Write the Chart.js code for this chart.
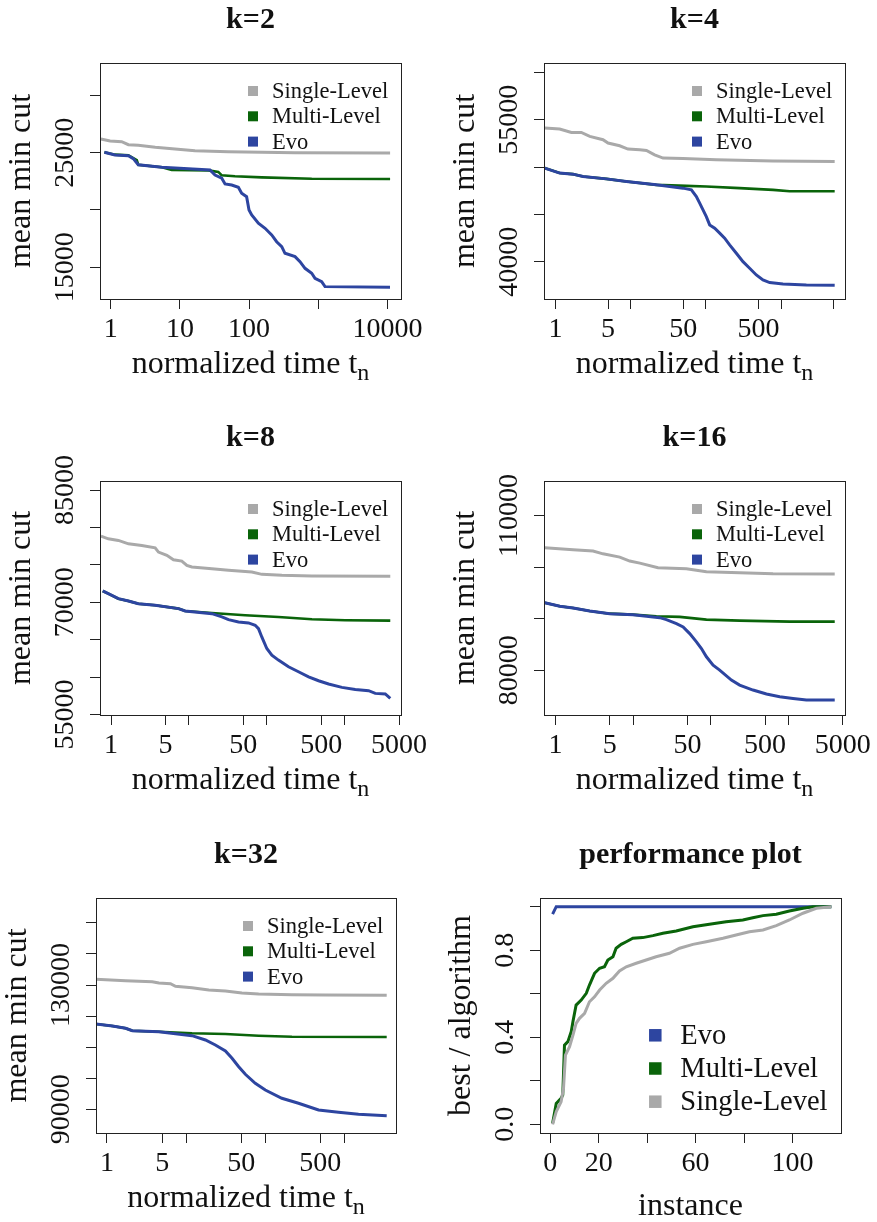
<!DOCTYPE html>
<html>
<head>
<meta charset="utf-8">
<title>Mean min cut over normalized time</title>
<script src="https://cdn.jsdelivr.net/npm/chart.js@4.4.1/dist/chart.umd.min.js"></script>
<style>
	html, body { margin: 0; padding: 0; background: #fff; }
	#figure { position: relative; width: 877px; height: 1222px; background: #fff; overflow: hidden; }
	#figure canvas { position: absolute; }
</style>
</head>
<body>
<div id="figure"></div>
<script>
/* global Chart */

// k=2
const K2_SINGLE_T = [ 0.72, 0.98, 1.44, 1.8, 2.5, 4.4, 8.5, 16.5, 50, 152, 460, 10900 ];
const K2_SINGLE_CUT = [ 26200, 26020, 25960, 25700, 25650, 25470, 25320, 25180, 25090, 25030, 25000, 24970 ];
const K2_MULTI_T = [ 0.81, 1.15, 1.8, 2.38, 2.5, 5.5, 7.6, 25.8, 35.9, 40, 62.5, 152, 804, 10900 ];
const K2_MULTI_CUT = [ 25040, 24830, 24770, 24360, 23950, 23730, 23490, 23460, 23320, 23030, 22940, 22850, 22730, 22700 ];
const K2_EVO_T = [ 0.81, 1.15, 1.8, 2.12, 2.5, 5.46, 27.2, 32.2, 40.2, 44.9, 56, 69.9, 78, 92, 99.7, 109, 136, 170, 212, 250, 296, 330, 461, 544, 643, 803, 896, 1119, 1250, 10870 ];
const K2_EVO_CUT = [ 25040, 24800, 24740, 24480, 23950, 23730, 23490, 23050, 22770, 22270, 22180, 21980, 21460, 21160, 20000, 19560, 18840, 18400, 17820, 17230, 16800, 16220, 15930, 15490, 14910, 14480, 14040, 13740, 13310, 13250 ];

// k=4
const K4_SINGLE_T = [ 0.72, 1.14, 1.63, 2.21, 2.86, 4.29, 5, 7.14, 9.2, 13.2, 16.2, 20.8, 26.9, 49.5, 137, 776, 5117 ];
const K4_SINGLE_CUT = [ 54120, 54020, 53660, 53660, 53240, 52890, 52540, 52250, 51900, 51830, 51760, 51300, 50950, 50910, 50770, 50640, 50590 ];
const K4_MULTI_T = [ 0.72, 1.14, 1.71, 2.33, 4.75, 8.77, 21.9, 55, 101, 280, 776, 1291, 5117 ];
const K4_MULTI_CUT = [ 49900, 49370, 49260, 49010, 48760, 48480, 48130, 48020, 47960, 47780, 47600, 47460, 47460 ];
const K4_EVO_T = [ 0.72, 1.14, 1.71, 2.33, 4.75, 8.77, 21.9, 49.5, 64, 74.5, 82.5, 91.3, 101, 112, 130.5, 152, 177, 206, 253, 310, 380, 466, 571, 701, 1054, 2153, 5117 ];
const K4_EVO_CUT = [ 49900, 49370, 49260, 49010, 48760, 48480, 48130, 47780, 47600, 46890, 46200, 45490, 44780, 43900, 43550, 43030, 42500, 41790, 40910, 40020, 39330, 38620, 38090, 37810, 37670, 37560, 37530 ];

// k=8
const K8_SINGLE_T = [ 0.74, 0.92, 1.24, 1.67, 2.48, 3.68, 4.06, 5.2, 6.32, 8.1, 9.4, 10.9, 19.7, 32.2, 64.3, 86.5, 156, 380, 3855 ];
const K8_SINGLE_CUT = [ 78840, 78480, 78270, 77810, 77600, 77280, 76710, 76270, 75680, 75510, 74930, 74710, 74480, 74270, 74040, 73730, 73600, 73510, 73470 ];
const K8_MULTI_T = [ 0.78, 0.92, 1.24, 1.67, 2.24, 3.68, 7.33, 8.93, 19.7, 52.7, 141, 380, 1018, 3855 ];
const K8_MULTI_CUT = [ 71510, 71150, 70480, 70170, 69810, 69600, 69150, 68840, 68570, 68270, 68040, 67730, 67600, 67550 ];
const K8_EVO_T = [ 0.78, 0.92, 1.24, 1.67, 2.24, 3.68, 7.33, 8.93, 19.7, 26.5, 32.2, 43.3, 58.2, 70.9, 78.2, 86.5, 100, 116, 141, 190, 255, 344, 462, 621, 922, 1368, 2029, 2473, 3326, 3855 ];
const K8_EVO_CUT = [ 71510, 71150, 70480, 70170, 69810, 69600, 69150, 68840, 68480, 68040, 67680, 67370, 67240, 66930, 66480, 65330, 63820, 62940, 62270, 61380, 60710, 60040, 59510, 59070, 58620, 58350, 58180, 57820, 57740, 57150 ];

// k=16
const K16_SINGLE_T = [ 0.73, 1.69, 3.05, 4.1, 6.73, 9.04, 12.2, 20.9, 48.5, 87.8, 235, 632, 3933 ];
const K16_SINGLE_CUT = [ 103730, 103350, 103100, 102570, 101940, 101160, 100770, 99870, 99670, 99090, 98900, 98700, 98650 ];
const K16_MULTI_T = [ 0.73, 1.14, 1.69, 2.76, 5, 9.97, 19.9, 39.8, 87.8, 235, 1036, 3933 ];
const K16_MULTI_CUT = [ 93090, 92400, 92070, 91490, 90960, 90770, 90460, 90330, 89800, 89610, 89420, 89420 ];
const K16_EVO_T = [ 0.73, 1.14, 1.69, 2.76, 5, 9.97, 12.2, 22, 26.8, 36.1, 44, 53.5, 65.3, 75.7, 87.8, 107, 130, 184, 235, 349, 520, 771, 1143, 1699, 3933 ];
const K16_EVO_CUT = [ 93090, 92400, 92070, 91490, 90960, 90770, 90620, 90190, 89800, 89030, 88390, 87090, 85490, 84190, 82590, 80980, 80010, 78080, 77110, 76140, 75370, 74850, 74520, 74200, 74200 ];

// k=32
const K32_SINGLE_T = [ 0.72, 1.72, 3.73, 4.54, 6.36, 7.35, 11.9, 19.4, 31.5, 51, 83, 219, 576, 3460 ];
const K32_SINGLE_CUT = [ 131840, 131390, 131060, 130640, 130420, 129580, 129130, 128390, 128070, 127420, 127100, 126880, 126780, 126680 ];
const K32_MULTI_T = [ 0.72, 1.17, 1.72, 2.09, 4.54, 11.9, 31.5, 83, 219, 3460 ];
const K32_MULTI_CUT = [ 117440, 116800, 116060, 115290, 114960, 114450, 114220, 113680, 113350, 113260 ];
const K32_EVO_T = [ 0.72, 1.17, 1.72, 2.09, 4.54, 7.35, 11.9, 17.6, 23.5, 31.5, 38.2, 46.4, 56.3, 75.2, 100.7, 163, 265, 475, 849, 1521, 3460 ];
const K32_EVO_CUT = [ 117440, 116800, 116060, 115290, 114960, 114320, 113680, 112290, 110680, 108750, 106400, 103690, 101250, 98350, 96190, 93520, 91910, 89750, 89010, 88370, 87910 ];

// performance plot
const PERF_EVO_I = [ 1, 2.5, 116 ];
const PERF_EVO_Q = [ 0.966, 1.0, 1.0 ];
const PERF_MULTI_I = [ 1, 2.5, 4.5, 5.2, 5.9, 7.3, 8.7, 9.4, 10.7, 12.8, 14.9, 16.2, 18.3, 20.4, 22.4, 23.8, 25.9, 27.2, 29.3, 31.4, 34.1, 38.2, 42.4, 46.5, 52, 58.9, 65.7, 72.6, 79.5, 83.6, 87.8, 93.3, 98.7, 104.3, 108.4, 116 ];
const PERF_MULTI_Q = [ 0.005, 0.096, 0.119, 0.135, 0.364, 0.38, 0.426, 0.472, 0.548, 0.571, 0.602, 0.64, 0.694, 0.717, 0.724, 0.755, 0.77, 0.809, 0.827, 0.839, 0.855, 0.858, 0.867, 0.878, 0.888, 0.908, 0.919, 0.931, 0.939, 0.949, 0.959, 0.965, 0.98, 0.993, 1.0, 1.0 ];
const PERF_SINGLE_I = [ 1, 2.5, 4.5, 5.5, 6.3, 8.0, 9.4, 10.7, 12.1, 14.2, 16.2, 18.3, 20.4, 23.1, 25.9, 28.6, 31.4, 35.5, 39.6, 43.7, 49.2, 53.4, 58.9, 64.4, 71.3, 76.7, 82.2, 87.8, 93.3, 98.7, 104.3, 109.8, 116 ];
const PERF_SINGLE_Q = [ 0.0, 0.058, 0.104, 0.165, 0.318, 0.357, 0.41, 0.464, 0.487, 0.51, 0.563, 0.586, 0.617, 0.648, 0.671, 0.705, 0.724, 0.74, 0.755, 0.77, 0.786, 0.809, 0.827, 0.839, 0.855, 0.87, 0.885, 0.893, 0.913, 0.939, 0.97, 0.993, 1.0 ];

// axis ticks and the tick labels R actually printed
const T_TICKS_DECADES = [ 1, 10, 100, 1000, 10000 ];
const T_TICKS_HALF = [ 1, 5, 10, 50, 100, 500, 1000, 5000 ];
const T_TICKS_HALF_SHORT = [ 1, 5, 10, 50, 100, 500, 1000 ];
const K2_T_LABELS = [ 1, 10, 100, 10000 ];
const K4_T_LABELS = [ 1, 5, 50, 500 ];
const K8_T_LABELS = [ 1, 5, 50, 500, 5000 ];
const K16_T_LABELS = [ 1, 5, 50, 500, 5000 ];
const K32_T_LABELS = [ 1, 5, 50, 500 ];

const K2_CUT_TICKS = [ 15000, 20000, 25000, 30000 ];
const K2_CUT_LABELS = [ 15000, 25000 ];
const K4_CUT_TICKS = [ 40000, 45000, 50000, 55000, 60000 ];
const K4_CUT_LABELS = [ 40000, 55000 ];
const K8_CUT_TICKS = [ 55000, 60000, 65000, 70000, 75000, 80000, 85000 ];
const K8_CUT_LABELS = [ 55000, 70000, 85000 ];
const K16_CUT_TICKS = [ 80000, 90000, 100000, 110000 ];
const K16_CUT_LABELS = [ 80000, 110000 ];
const K32_CUT_TICKS = [ 90000, 100000, 110000, 120000, 130000, 140000, 150000 ];
const K32_CUT_LABELS = [ 90000, 130000 ];

const PERF_I_TICKS = [ 0, 20, 40, 60, 80, 100 ];
const PERF_I_LABELS = [ 0, 20, 60, 100 ];
const PERF_Q_TICKS = [ 0, 0.2, 0.4, 0.6, 0.8, 1.0 ];
const PERF_Q_LABELS = [ 0, 0.4, 0.8 ];

( function ( window ) {
	'use strict';

	const TICK = 10;
	const SERIF = '"Liberation Serif", "Times New Roman", serif';
	const INK = '#111111';
	const FRAME = '#222222';
	const COLORS = {
		evo: '#2d45a0',
		multi: '#0a640a',
		single: '#a9a9a9',
	};

	// canvas cells of the 3x2 grid and the plot boxes inside them (page px)
	const PANELS = [
		{
			cell: { x: 0, y: 0, w: 438, h: 400 },
			box: { l: 100, t: 63, r: 401, b: 299 },
			title: 'k=2',
			x: { log: true, min: 0.70, max: 15670, ticks: T_TICKS_DECADES, labels: K2_T_LABELS },
			y: { min: 12230, max: 32830, ticks: K2_CUT_TICKS, labels: K2_CUT_LABELS },
			series: [ K2_SINGLE_T, K2_SINGLE_CUT, K2_MULTI_T, K2_MULTI_CUT, K2_EVO_T, K2_EVO_CUT ],
		},
		{
			cell: { x: 438, y: 0, w: 439, h: 400 },
			box: { l: 544, t: 63, r: 845, b: 299 },
			title: 'k=4',
			x: { log: true, min: 0.706, max: 7015, ticks: T_TICKS_HALF, labels: K4_T_LABELS },
			y: { min: 36080, max: 60990, ticks: K4_CUT_TICKS, labels: K4_CUT_LABELS },
			series: [ K4_SINGLE_T, K4_SINGLE_CUT, K4_MULTI_T, K4_MULTI_CUT, K4_EVO_T, K4_EVO_CUT ],
		},
		{
			cell: { x: 0, y: 400, w: 438, h: 400 },
			box: { l: 100, t: 481, r: 401, b: 715 },
			title: 'k=8',
			x: { log: true, min: 0.72, max: 5293, ticks: T_TICKS_HALF, labels: K8_T_LABELS },
			y: { min: 54930, max: 86210, ticks: K8_CUT_TICKS, labels: K8_CUT_LABELS },
			series: [ K8_SINGLE_T, K8_SINGLE_CUT, K8_MULTI_T, K8_MULTI_CUT, K8_EVO_T, K8_EVO_CUT ],
		},
		{
			cell: { x: 438, y: 400, w: 439, h: 400 },
			box: { l: 544, t: 481, r: 845, b: 715 },
			title: 'k=16',
			x: { log: true, min: 0.713, max: 5333, ticks: T_TICKS_HALF, labels: K16_T_LABELS },
			y: { min: 71300, max: 116700, ticks: K16_CUT_TICKS, labels: K16_CUT_LABELS },
			series: [ K16_SINGLE_T, K16_SINGLE_CUT, K16_MULTI_T, K16_MULTI_CUT, K16_EVO_T, K16_EVO_CUT ],
		},
		{
			cell: { x: 0, y: 800, w: 438, h: 422 },
			box: { l: 96, t: 898, r: 396, b: 1133 },
			title: 'k=32',
			x: { log: true, min: 0.726, max: 4536, ticks: T_TICKS_HALF_SHORT, labels: K32_T_LABELS },
			y: { min: 82340, max: 158020, ticks: K32_CUT_TICKS, labels: K32_CUT_LABELS },
			series: [ K32_SINGLE_T, K32_SINGLE_CUT, K32_MULTI_T, K32_MULTI_CUT, K32_EVO_T, K32_EVO_CUT ],
		},
	];

	const PERF_PANEL = {
		cell: { x: 438, y: 800, w: 439, h: 422 },
		box: { l: 540, t: 898, r: 841, b: 1133 },
		title: 'performance plot',
		x: { log: false, min: -4.2, max: 120, ticks: PERF_I_TICKS, labels: PERF_I_LABELS },
		y: { min: -0.04, max: 1.04, ticks: PERF_Q_TICKS, labels: PERF_Q_LABELS, digits: 1 },
	};

	// draws the R-like frame, titles, rotated y labels and the boxed legend
	const rDecor = {
		id: 'rDecor',
		afterDraw: function ( chart, args, opts ) {
			const ctx = chart.ctx;
			const area = chart.chartArea;
			const xScale = chart.scales.x;
			const yScale = chart.scales.y;
			const midX = ( area.left + area.right ) / 2;
			const midY = ( area.top + area.bottom ) / 2;

			ctx.save();

			ctx.strokeStyle = FRAME;
			ctx.lineWidth = 1;
			ctx.strokeRect( area.left + 0.5, area.top + 0.5, area.right - area.left, area.bottom - area.top );

			ctx.fillStyle = INK;
			ctx.textBaseline = 'alphabetic';

			ctx.font = 'bold 30px ' + SERIF;
			ctx.textAlign = 'center';
			ctx.fillText( opts.title, midX, area.top - 35 );

			ctx.font = '28px ' + SERIF;
			opts.xLabels.forEach( function ( v ) {
				ctx.fillText( String( v ), xScale.getPixelForValue( v ), area.bottom + 38 );
			} );

			opts.yLabels.forEach( function ( v ) {
				const text = opts.yDigits ? v.toFixed( opts.yDigits ) : String( v );
				drawUpright( ctx, text, area.left - 27, yScale.getPixelForValue( v ) );
			} );

			ctx.font = '32px ' + SERIF;
			drawUpright( ctx, opts.yTitle, area.left - 70, midY );

			if ( opts.xSub ) {
				const w1 = ctx.measureText( opts.xTitle ).width;
				ctx.font = '24px ' + SERIF;
				const w2 = ctx.measureText( opts.xSub ).width;
				const x0 = midX - ( w1 + w2 ) / 2;
				ctx.textAlign = 'left';
				ctx.fillText( opts.xSub, x0 + w1, area.bottom + 81 );
				ctx.font = '32px ' + SERIF;
				ctx.fillText( opts.xTitle, x0, area.bottom + 74 );
			} else {
				ctx.fillText( opts.xTitle, midX, area.bottom + 82 );
			}

			const lg = opts.legend;
			ctx.font = lg.fontSize + 'px ' + SERIF;
			ctx.textAlign = 'left';
			ctx.textBaseline = 'middle';
			lg.order.forEach( function ( dsIndex, row ) {
				const ds = chart.data.datasets[ dsIndex ];
				const y = ( lg.fromBottom ? area.bottom : area.top ) + lg.row0 + row * lg.rowGap;
				const sx = area.right - lg.squareDx;
				ctx.fillStyle = ds.borderColor;
				ctx.fillRect( sx - lg.square / 2, y - lg.square / 2, lg.square, lg.square );
				ctx.fillStyle = INK;
				ctx.fillText( ds.label, area.right - lg.textDx, y + 1 );
			} );

			ctx.restore();
		},
	};

	function drawUpright( ctx, text, baselineX, centerY ) {
		ctx.save();
		ctx.translate( baselineX, centerY );
		ctx.rotate( -Math.PI / 2 );
		ctx.textAlign = 'center';
		ctx.textBaseline = 'alphabetic';
		ctx.fillText( text, 0, 0 );
		ctx.restore();
	}

	function lineSet( label, xs, ys, color, width, order ) {
		return {
			label: label,
			data: xs.map( function ( x, i ) {
				return { x: x, y: ys[ i ] };
			} ),
			borderColor: color,
			backgroundColor: color,
			borderWidth: width,
			pointRadius: 0,
			pointHoverRadius: 0,
			tension: 0,
			fill: false,
			order: order,
		};
	}

	function axis( cfg, horizontal ) {
		return {
			type: cfg.log ? 'logarithmic' : 'linear',
			min: cfg.min,
			max: cfg.max,
			bounds: 'data',
			afterBuildTicks: function ( scale ) {
				scale.ticks = cfg.ticks.map( function ( v ) {
					return { value: v };
				} );
			},
			afterFit: function ( scale ) {
				if ( horizontal ) {
					scale.height = TICK;
				} else {
					scale.width = TICK;
				}
			},
			ticks: { display: false },
			grid: {
				display: true,
				drawOnChartArea: false,
				drawTicks: true,
				tickLength: TICK,
				color: FRAME,
				lineWidth: 1,
			},
			border: { display: true, color: FRAME, width: 1 },
		};
	}

	function makeChart( panel, datasets, decor ) {
		const cell = panel.cell;
		const box = panel.box;
		const canvas = document.createElement( 'canvas' );
		canvas.width = cell.w;
		canvas.height = cell.h;
		canvas.style.left = cell.x + 'px';
		canvas.style.top = cell.y + 'px';
		canvas.style.width = cell.w + 'px';
		canvas.style.height = cell.h + 'px';
		document.getElementById( 'figure' ).appendChild( canvas );

		decor.title = panel.title;
		decor.xLabels = panel.x.labels;
		decor.yLabels = panel.y.labels;
		decor.yDigits = panel.y.digits || 0;

		return new Chart( canvas.getContext( '2d' ), {
			type: 'line',
			data: { datasets: datasets },
			options: {
				responsive: false,
				animation: false,
				events: [],
				layout: {
					autoPadding: false,
					padding: {
						left: box.l - cell.x - TICK,
						right: cell.x + cell.w - box.r,
						top: box.t - cell.y,
						bottom: cell.y + cell.h - box.b - TICK,
					},
				},
				plugins: {
					legend: { display: false },
					title: { display: false },
					tooltip: { enabled: false },
					rDecor: decor,
				},
				scales: {
					x: axis( panel.x, true ),
					y: axis( panel.y, false ),
				},
			},
			plugins: [ rDecor ],
		} );
	}

	if ( 'undefined' === typeof Chart ) {
		return;
	}

	PANELS.forEach( function ( panel ) {
		const s = panel.series;
		makeChart( panel, [
			lineSet( 'Single-Level', s[ 0 ], s[ 1 ], COLORS.single, 3, 2 ),
			lineSet( 'Multi-Level', s[ 2 ], s[ 3 ], COLORS.multi, 2.6, 1 ),
			lineSet( 'Evo', s[ 4 ], s[ 5 ], COLORS.evo, 3, 0 ),
		], {
			yTitle: 'mean min cut',
			xTitle: 'normalized time t',
			xSub: 'n',
			legend: { order: [ 0, 1, 2 ], fontSize: 22.5, square: 10, squareDx: 148, textDx: 129, row0: 28, rowGap: 25.3, fromBottom: false },
		} );
	} );

	makeChart( PERF_PANEL, [
		lineSet( 'Evo', PERF_EVO_I, PERF_EVO_Q, COLORS.evo, 3, 2 ),
		lineSet( 'Multi-Level', PERF_MULTI_I, PERF_MULTI_Q, COLORS.multi, 3, 1 ),
		lineSet( 'Single-Level', PERF_SINGLE_I, PERF_SINGLE_Q, COLORS.single, 3, 0 ),
	], {
		yTitle: 'best / algorithm',
		xTitle: 'instance',
		xSub: '',
		legend: { order: [ 0, 1, 2 ], fontSize: 28.5, square: 12.5, squareDx: 185.7, textDx: 160.7, row0: -97.7, rowGap: 33.2, fromBottom: true },
	} );
}( window ) );
</script>
</body>
</html>
